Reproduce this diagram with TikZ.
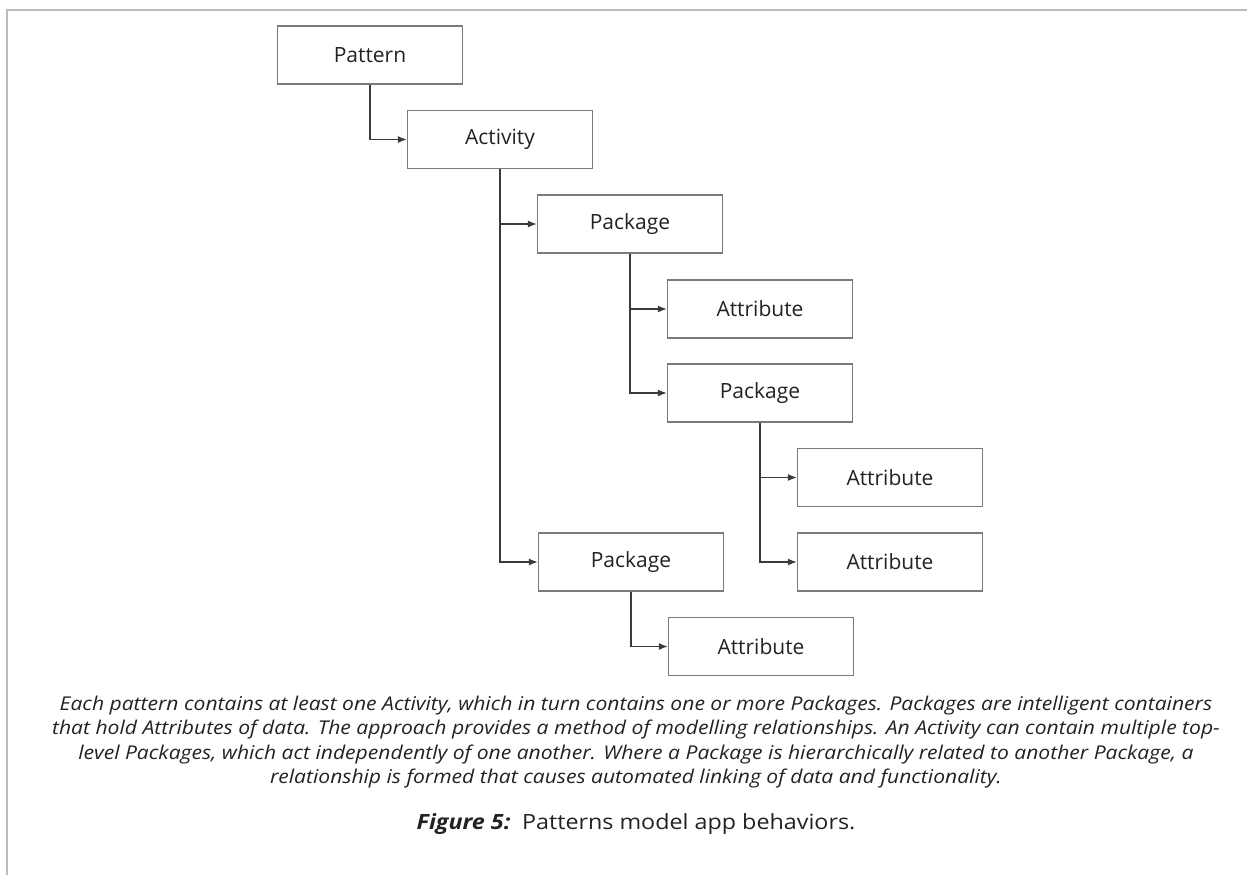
\documentclass[tikz,border=0pt]{standalone}
\usepackage{fontspec}
\setmainfont{Open Sans}
\newfontfamily\capfont[FakeStretch=1.11]{Open Sans}
\usetikzlibrary{arrows.meta}
\definecolor{boxgray}{HTML}{7A7A7A}
\definecolor{linegray}{HTML}{3A3A3A}
\definecolor{framegray}{HTML}{BBBBBB}
\definecolor{txt}{HTML}{222222}
\tikzset{
  box/.style={draw=boxgray, line width=1.3pt, minimum width=185pt, minimum height=58pt,
    inner sep=0pt, font=\fontsize{21}{24}\selectfont, text=txt},
  conn/.style={draw=linegray, line width=1.4pt, -{Latex[length=9pt,width=7pt]}},
}
\begin{document}
\begin{tikzpicture}[x=1pt,y=-1pt]
\useasboundingbox (0,0) rectangle (1247,875);
\draw[framegray, line width=1.5pt] (7,875) -- (7,10) -- (1247,10);
\node[box] (pattern) at (370,55) {Pattern};
\node[box] (activity) at (500,139.5) {Activity};
\node[box] (pkg1) at (630,224) {Package};
\node[box] (attr1) at (760,309) {Attribute};
\node[box] (pkg2) at (760,393) {Package};
\node[box] (attr2) at (890,477.5) {Attribute};
\node[box] (attr3) at (890,562) {Attribute};
\node[box] (pkg3) at (631,562) {Package};
\node[box] (attr4) at (761,646.5) {Attribute};
\draw[conn] (pattern.south) |- (activity.west);
\draw[conn] (activity.south) |- (pkg3.west);
\draw[conn] (activity.south |- pkg1.west) -- (pkg1.west);
\draw[conn] (pkg1.south) |- (pkg2.west);
\draw[conn] (pkg1.south |- attr1.west) -- (attr1.west);
\draw[conn] (pkg2.south) |- (attr3.west);
\draw[conn] (pkg2.south |- attr2.west) -- (attr2.west);
\draw[conn] (pkg3.south) |- (attr4.west);
\node[align=center, text=txt, font=\capfont\fontsize{19}{24.5}\selectfont\itshape, inner sep=0pt] (cap) at (636,742)
{Each pattern contains at least one Activity, which in turn contains one or more Packages. Packages are intelligent containers\\
that hold Attributes of data. The approach provides a method of modelling relationships. An Activity can contain multiple top-\\
level Packages, which act independently of one another. Where a Package is hierarchically related to another Package, a\\
relationship is formed that causes automated linking of data and functionality.};
\node[text=txt, font=\capfont\fontsize{21}{24}\selectfont, inner sep=0pt] (fig) at (636,824)
{\textbf{\itshape Figure 5:}\, Patterns model app behaviors.};
\end{tikzpicture}
\end{document}
